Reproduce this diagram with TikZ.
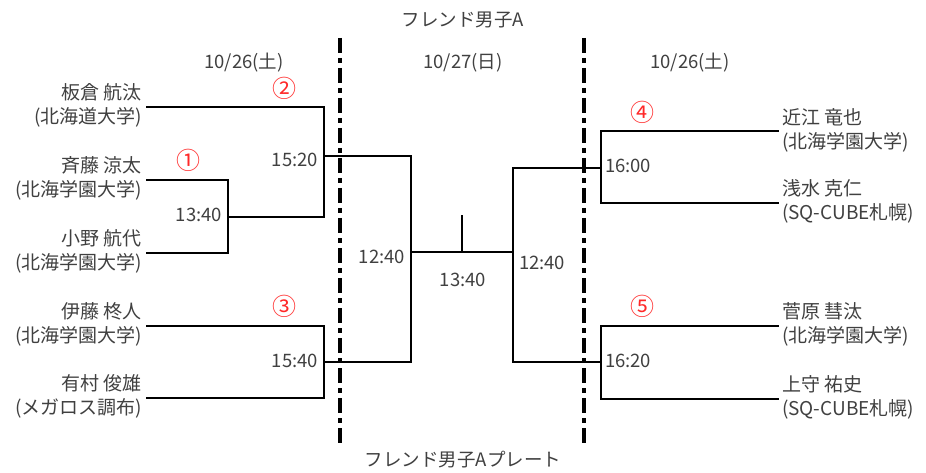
\documentclass[tikz,border=0pt]{standalone}
\usepackage{fontspec}
\setmainfont{Noto Sans CJK JP}
\definecolor{txt}{RGB}{64,64,64}
\definecolor{num}{RGB}{255,40,40}
\begin{document}
\begin{tikzpicture}[x=1pt,y=-1pt,
  every node/.style={inner sep=0pt,outer sep=0pt,text=txt,font=\fontsize{18.5}{24}\selectfont},
  team/.style={align=right,font=\fontsize{19}{24}\selectfont},
  teamr/.style={align=left,font=\fontsize{19}{24}\selectfont},
  br/.style={line width=2pt,line cap=rect,line join=miter},
  sep/.style={line width=4pt,dash pattern=on 15pt off 5pt on 5pt off 5pt},
  circ/.style={text=num,font=\fontsize{24}{24}\selectfont}]
\useasboundingbox (0,0) rectangle (926,473);
% separators
\coordinate (sepLt) at (340,38); \coordinate (sepLb) at (340,447);
\coordinate (sepRt) at (584,38); \coordinate (sepRb) at (584,447);
\draw[sep] (sepLt) -- (sepLb);
\draw[sep] (sepRt) -- (sepRb);
% titles
\node (title) at (463,20) {フレンド男子A};
\node (title2) at (463,460) {フレンド男子Aプレート};
\node (d1) at (244,63) {10/26(土)};
\node (d2) at (463,63) {10/27(日)};
\node (d3) at (690,63) {10/26(土)};
% left teams
\node[team,anchor=east] (t1) at (142,105.5) {板倉 航汰\\(北海道大学)};
\node[team,anchor=east] (t2) at (142,178.5) {斉藤 涼太\\(北海学園大学)};
\node[team,anchor=east] (t3) at (142,251.5) {小野 航代\\(北海学園大学)};
\node[team,anchor=east] (t4) at (142,324.5) {伊藤 柊人\\(北海学園大学)};
\node[team,anchor=east] (t5) at (142,396.5) {有村 俊雄\\(メガロス調布)};
% right teams
\node[teamr,anchor=west] (t6) at (782,130.5) {近江 竜也\\(北海学園大学)};
\node[teamr,anchor=west] (t7) at (782,201.5) {浅水 克仁\\(SQ-CUBE札幌)};
\node[teamr,anchor=west] (t8) at (782,324.5) {菅原 彗汰\\(北海学園大学)};
\node[teamr,anchor=west] (t9) at (782,397.5) {上守 祐史\\(SQ-CUBE札幌)};
% line ends at teams
\coordinate (e1) at (147,107);
\coordinate (e2) at (147,180);
\coordinate (e3) at (147,253);
\coordinate (e4) at (147,326);
\coordinate (e5) at (147,398);
\coordinate (e6) at (778,131);
\coordinate (e7) at (778,203);
\coordinate (e8) at (778,326);
\coordinate (e9) at (778,399);
% junctions
\coordinate (j1) at (228,217);
\coordinate (j1o) at (324,217);
\coordinate (j2) at (324,156);
\coordinate (j2o) at (411,156);
\coordinate (j3) at (324,362);
\coordinate (j3o) at (411,362);
\coordinate (sL) at (411,252);
\coordinate (sR) at (513,252);
\coordinate (ftop) at (462,216);
\coordinate (fbot) at (462,252);
\coordinate (j4) at (601,168);
\coordinate (j4o) at (513,168);
\coordinate (j5) at (601,362);
\coordinate (j5o) at (513,362);
% brackets left
\draw[br] (e2) -| (j1) |- (e3);
\draw[br] (j1) -- (j1o);
\draw[br] (e1) -| (j2) |- (j1o);
\draw[br] (j2) -- (j2o);
\draw[br] (e4) -| (j3) |- (e5);
\draw[br] (j3) -- (j3o);
\draw[br] (j2o) -- (sL) -- (j3o);
\draw[br] (sL) -- (sR);
\draw[br] (ftop) -- (fbot);
% brackets right
\draw[br] (e6) -| (j4) |- (e7);
\draw[br] (j4) -- (j4o);
\draw[br] (e8) -| (j5) |- (e9);
\draw[br] (j5) -- (j5o);
\draw[br] (j4o) -- (sR) -- (j5o);
% times
\node[anchor=east] (tm1) at (222,215) {13:40};
\node[anchor=east] (tm2) at (318,160) {15:20};
\node[anchor=east] (tm3) at (318,361) {15:40};
\node[anchor=east] (tm4) at (405,257) {12:40};
\node (tm5) at (463,280) {13:40};
\node[anchor=west] (tm6) at (519,263) {12:40};
\node[anchor=west] (tm7) at (605,166) {16:00};
\node[anchor=west] (tm8) at (605,361) {16:20};
% match numbers
\node[circ] (c1) at (188,160) {①};
\node[circ] (c2) at (284,88) {②};
\node[circ] (c3) at (284,306) {③};
\node[circ] (c4) at (642,112) {④};
\node[circ] (c5) at (642,306) {⑤};
\end{tikzpicture}
\end{document}
